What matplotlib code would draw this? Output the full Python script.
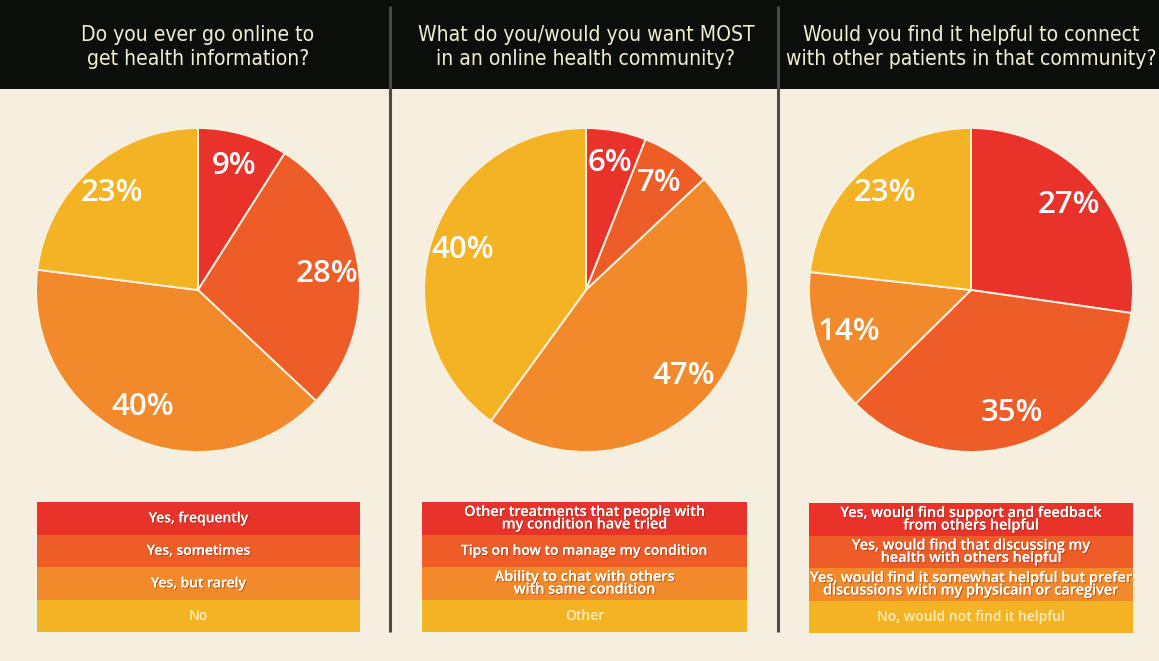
import matplotlib
matplotlib.use("Agg")
import matplotlib.pyplot as plt
from matplotlib.patches import Rectangle
from matplotlib import patheffects as pe
from matplotlib import font_manager as fm

# ---------------- data ----------------
titles = [
    "Do you ever go online to\nget health information?",
    "What do you/would you want MOST\nin an online health community?",
    "Would you find it helpful to connect\nwith other patients in that community?",
]
values_q1 = [9, 28, 40, 23]
values_q2 = [6, 7, 47, 40]
values_q3 = [27, 35, 14, 23]
labels_q1 = ["Yes, frequently", "Yes, sometimes", "Yes, but rarely", "No"]
labels_q2 = ["Other treatments that people with\nmy condition have tried",
             "Tips on how to manage my condition",
             "Ability to chat with others\nwith same condition",
             "Other"]
labels_q3 = ["Yes, would find support and feedback\nfrom others helpful",
             "Yes, would find that discussing my\nhealth with others helpful",
             "Yes, would find it somewhat helpful but prefer\ndiscussions with my physicain or caregiver",
             "No, would not find it helpful"]

colors = ["#e8322a", "#ee5c27", "#f28a2b", "#f4b324"]
legend_text_colors = ["white", "white", "white", "#fbeebc"]
bg = "#f5efdf"

# ---------------- fonts ----------------
entries = fm.fontManager.ttflist
names = {f.name for f in entries}
body_family = "Open Sans" if "Open Sans" in names else "DejaVu Sans"


def pick_condensed():
    cands = []
    for f in entries:
        n = f.name.lower()
        fn = f.fname.lower()
        st = str(f.stretch).lower()
        is_cond = ("narrow" in n or "condensed" in n or "condensed" in fn or "narrow" in fn
                   or "condensed" in st)
        if not is_cond:
            continue
        if f.style != "normal" or "italic" in fn or "oblique" in fn:
            continue
        w = f.weight if isinstance(f.weight, int) else {"normal": 400, "regular": 400}.get(str(f.weight), 500)
        if "bold" in fn or "light" in fn or "thin" in fn or "black" in fn or "medium" in fn:
            continue
        cands.append((abs(w - 400), f.fname))
    if not cands:
        return None
    cands.sort()
    return fm.FontProperties(fname=cands[0][1])


title_font = pick_condensed()
if title_font is None:
    title_font = fm.FontProperties(family="Liberation Sans")

W, H = 1159, 661
fig = plt.figure(figsize=(W / 100, H / 100), dpi=100)
fig.patch.set_facecolor(bg)

base = fig.add_axes([0, 0, 1, 1])
base.set_xlim(0, W)
base.set_ylim(H, 0)
base.axis("off")

# header band
base.add_patch(Rectangle((0, 0), W, 89, facecolor="#0c0e0c", edgecolor="none", zorder=1))

panel_cx = [198, 586, 971]
max_w = [330, 372, 370]
renderer = fig.canvas.get_renderer()
title_texts = []
scale = 1.0
base_size = 18.5
for cx, t, mw in zip(panel_cx, titles, max_w):
    fp = title_font.copy()
    fp.set_size(base_size)
    txt = base.text(cx, 47, t, ha="center", va="center", color="#f1ecd2",
                    fontproperties=fp, linespacing=1.3, zorder=3)
    bb = txt.get_window_extent(renderer=renderer)
    scale = min(scale, mw / bb.width)
    title_texts.append(txt)
for txt in title_texts:
    fp = title_font.copy()
    fp.set_size(base_size * scale)
    txt.set_fontproperties(fp)

# dividers
for x in [390, 778]:
    base.plot([x, x], [6, 632], color="#4a4a4a", lw=2.2, zorder=2, solid_capstyle="butt")

# ---------------- pies ----------------
R = 162
pie_cy = 290
all_values = [values_q1, values_q2, values_q3]
for cx, vals in zip(panel_cx, all_values):
    ax = fig.add_axes([(cx - R) / W, (H - pie_cy - R) / H, 2 * R / W, 2 * R / H])
    ax.set_facecolor("none")
    wedges, texts = ax.pie(vals, colors=colors, startangle=90, counterclock=False,
                           labels=[f"{v}%" for v in vals], labeldistance=0.8,
                           wedgeprops=dict(edgecolor="#f8f1df", linewidth=1.4))
    for t in texts:
        t.set_ha("center")
        t.set_va("center")
        t.set_color("white")
        t.set_fontsize(22.5)
        t.set_family(body_family)
        t.set_fontweight("semibold")
    ax.set_xlim(-1, 1)
    ax.set_ylim(-1, 1)
    ax.axis("off")

# ---------------- legends ----------------
legend_boxes = [(37, 502, 323), (422, 502, 325), (809, 503, 324)]
all_labels = [labels_q1, labels_q2, labels_q3]
row_h = 32.5
shadow = [pe.withSimplePatchShadow(offset=(0.8, -0.8), shadow_rgbFace="#6b2a10", alpha=0.45), pe.Normal()]
for (x0, y0, w), labs in zip(legend_boxes, all_labels):
    for i, (lab, c, tc) in enumerate(zip(labs, colors, legend_text_colors)):
        y = y0 + i * row_h
        base.add_patch(Rectangle((x0, y), w, row_h, facecolor=c, edgecolor="none", zorder=2))
        two = "\n" in lab
        base.text(x0 + w / 2, y + row_h / 2, lab, ha="center", va="center",
                  color=tc, fontsize=10.4 if two else 10, family=body_family,
                  fontweight="semibold", linespacing=0.86, zorder=3,
                  path_effects=shadow if tc == "white" else None)

fig.savefig("out.png", dpi=100, facecolor=fig.get_facecolor())
